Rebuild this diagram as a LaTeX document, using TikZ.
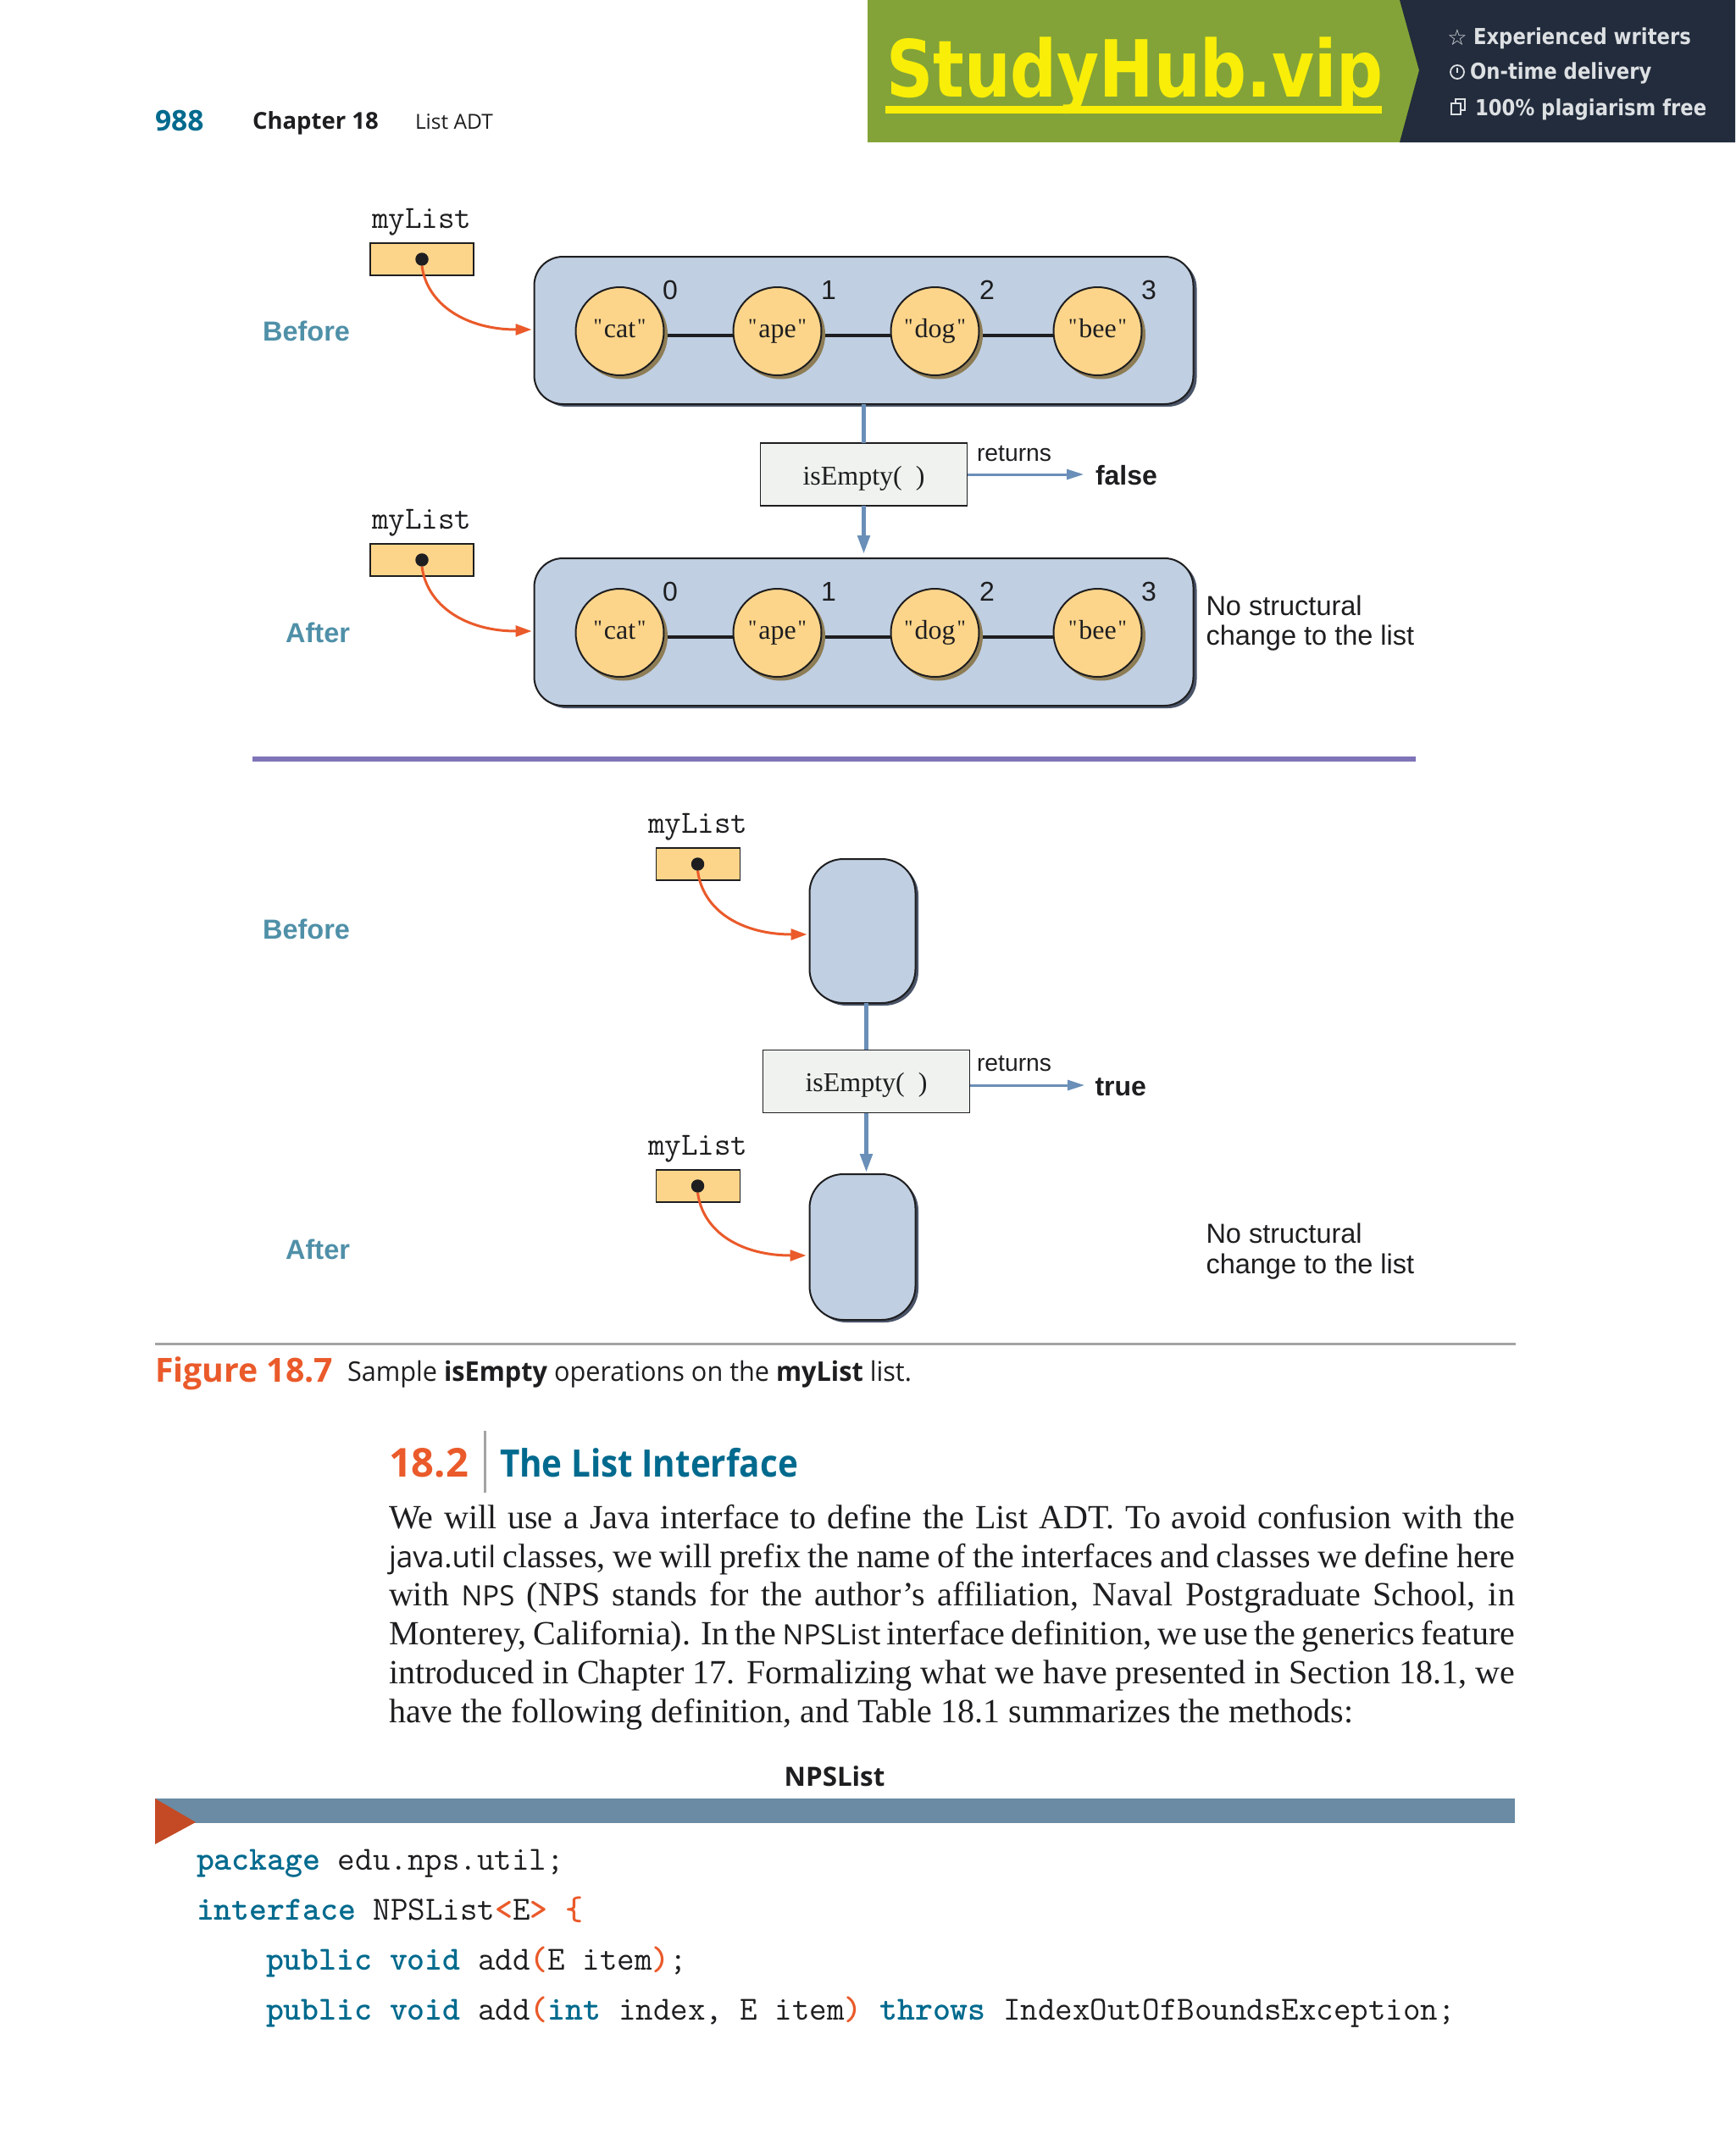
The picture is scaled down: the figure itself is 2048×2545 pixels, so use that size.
\documentclass[tikz,border=0pt]{standalone}
\usepackage{fontspec}
\usepackage{graphicx}
\setmainfont{Liberation Serif}
\setsansfont{Liberation Sans}
\newfontfamily\myr{Open Sans}
\newfontfamily\djv{DejaVu Sans}
\newfontfamily\plainq{Liberation Serif}
\usetikzlibrary{arrows.meta}
\definecolor{listfill}{HTML}{C0CFE2}
\definecolor{listshadow}{HTML}{4A5468}
\definecolor{ballfill}{HTML}{FDD58A}
\definecolor{ballshadow}{HTML}{8E7D55}
\definecolor{flow}{HTML}{6A8FB8}
\definecolor{ptr}{HTML}{EA5A2A}
\definecolor{opfill}{HTML}{EFF2EE}
\definecolor{tagc}{HTML}{4F90A8}
\definecolor{teal}{HTML}{006A8E}
\definecolor{inkc}{HTML}{1E1E20}
\definecolor{purp}{HTML}{8074B8}
\definecolor{graybar}{HTML}{A3A3A3}
\definecolor{steel}{HTML}{6A8BA3}
\definecolor{rust}{HTML}{C44A25}
\definecolor{bgreen}{HTML}{83A338}
\definecolor{bdark}{HTML}{222C3C}
\definecolor{bpale}{HTML}{DDE0E3}
\newcommand\fs[1]{\fontsize{#1}{#1}\selectfont}
\newcommand\qq{{\plainq\fs{25}\raisebox{5pt}{"}}}
\newcommand\kw[1]{\textcolor{teal}{\bfseries #1}}
\newcommand\oc[1]{\textcolor{ptr}{\bfseries #1}}
\pgfdeclarelayer{page}
\pgfdeclarelayer{lst}
\pgfdeclarelayer{conn}
\pgfsetlayers{page,lst,conn,main}
\tikzset{
  x=1pt,y=-1pt,
  every node/.style={inkc,inner sep=0pt,outer sep=0pt},
  listbox/.style={draw=inkc,fill=listfill,line width=2pt,rounded corners=34pt,minimum width=#1},
  listshade/.style={fill=listshadow,rounded corners=34pt,minimum width=#1},
  ball/.style={circle,draw=inkc,fill=ballfill,line width=2pt,minimum size=104pt,font=\rmfamily\fs{32},text height=15pt,text depth=0pt},
  ballshade/.style={circle,fill=ballshadow,minimum size=105pt},
  ptrbox/.style={draw=inkc,fill=ballfill,line width=1.8pt,minimum height=38pt},
  ptrdot/.style={circle,fill=inkc,minimum size=15.5pt},
  opbox/.style={draw=inkc,fill=opfill,line width=1.8pt,font=\rmfamily\fs{32},minimum width=244pt,minimum height=74pt,text height=24pt,text depth=0pt},
  ptrarrow/.style={ptr,line width=3pt,-{Triangle[length=19pt,width=13pt]}},
  flowline/.style={flow,line width=5pt},
  flowarrow/.style={flow,line width=5pt,-{Triangle[length=22pt,width=14pt]}},
  retarrow/.style={flow,line width=3pt,-{Triangle[length=20pt,width=12pt]}},
  link/.style={inkc,line width=3.5pt},
  varname/.style={anchor=base west,font=\ttfamily\fs{38}},
  tag/.style={anchor=base east,tagc,font=\sffamily\bfseries\fs{32.5}},
  note/.style={anchor=base west,font=\sffamily\fs{32.5}},
  idx/.style={anchor=base,font=\sffamily\fs{32}},
  retlab/.style={anchor=base west,font=\sffamily\fs{28.3}},
  result/.style={anchor=base west,font=\sffamily\bfseries\fs{32}},
  bodyline/.style={anchor=base west,font=\rmfamily\fs{40}},
  codeline/.style={anchor=base west,font=\ttfamily\fs{39.85}},
  badge/.style={anchor=base west,bpale,font=\djv\bfseries\fs{26}},
}
\newcommand\ListRow[2]{% #1 = name prefix, #2 = vertical shift
  \begin{pgfonlayer}{lst}
    \node[listshade=778pt,minimum height=174pt] at (1023.5,393+#2) {};
    \node[listbox=778pt,minimum height=174pt] (#1L) at (1019.5,390+#2) {};
  \end{pgfonlayer}
  \foreach \nm/\cx/\wlab/\ix/\ixdx in {a/731.5/cat/0/59.5,b/917.5/ape/1/60.5,c/1103.5/dog/2/61.5,d/1295.5/bee/3/60.5}{
    \node[ballshade] at (\cx+4,391+#2+4) {};
    \node[ball] (#1\nm) at (\cx,391+#2) {\qq\kern2pt\wlab\kern2pt\qq};
    \node[idx] at (\cx+\ixdx,353+#2) {\ix};
  }
  \begin{pgfonlayer}{conn}
    \draw[link] ([yshift=-5pt]#1a.center) -- ([yshift=-5pt]#1b.center);
    \draw[link] ([yshift=-5pt]#1b.center) -- ([yshift=-5pt]#1c.center);
    \draw[link] ([yshift=-5pt]#1c.center) -- ([yshift=-5pt]#1d.center);
  \end{pgfonlayer}
}
\begin{document}
\begin{tikzpicture}
\useasboundingbox (0,0) rectangle (2048,2545);
\begin{pgfonlayer}{page}
\fill[white] (0,0) rectangle (2048,2545);
\end{pgfonlayer}

% banner
\fill[bgreen] (1024,0) rectangle (1680,168);
\fill[bdark] (1652,0) -- (1675,83) -- (1652,168) -- (2048,168) -- (2048,0) -- cycle;
\node[anchor=base west,yellow!95!bgreen] at (1046,115) {\scalebox{.826}[1]{\djv\bfseries\fs{93}StudyHub.vip}};
\fill[yellow!95!bgreen] (1045,125) rectangle (1631,134);
\node[badge] at (1739,53) {\scalebox{.875}[1]{Experienced writers}};
\node[badge] at (1735,94) {\scalebox{.875}[1]{On-time delivery}};
\node[badge] at (1741,136) {\scalebox{.875}[1]{100\% plagiarism free}};
\node[anchor=center,bpale,font=\djv\fs{26}] at (1720,44) {☆};
\draw[bpale,line width=1.8pt] (1720,85) circle (8);
\draw[bpale,line width=1.5pt] (1720,80) -- (1720,86);
\draw[bpale,line width=1.5pt] (1713,122) rectangle (1724,135);
\draw[bpale,line width=1.5pt] (1718,122) -- (1718,117) -- (1729,117) -- (1729,130) -- (1724,130);

% running head
\node[anchor=base west,teal,font=\myr\bfseries\fs{33.6}] at (183,154) {988};
\node[anchor=base west,font=\myr\bfseries\fs{27.5}] at (298,153) {Chapter 18};
\node[anchor=base west,font=\myr\fs{24.5}] at (490,153) {List ADT};

% upper diagram, before
\node[varname] at (439,269) {myList};
\node[ptrbox,minimum width=122pt] (bx1) at (498,306) {};
\node[ptrdot] (d1) at (498,306) {};
\coordinate (t1) at (627.5,389);
\ListRow{u}{0}
\draw[ptrarrow] (d1.south) .. controls (504,360) and (551,389) .. (t1);
\node[tag] at (413,402) {Before};

\node[opbox] (op1) at (1019.5,560) {isEmpty(\ \ )};
\draw[flowline] (uL.south -| op1.north) -- (op1.north);
\node[retlab] at (1153,544) {returns};
\node[result] (r1) at (1293,572) {false};
\coordinate (e1) at (1279,560);
\draw[retarrow] (op1.east) -- (e1);

% upper diagram, after
\node[varname] at (439,624) {myList};
\node[ptrbox,minimum width=122pt] (bx2) at (498,661) {};
\node[ptrdot] (d2) at (498,661) {};
\coordinate (t2) at (627.5,745);
\ListRow{v}{356}
\draw[ptrarrow] (d2.south) .. controls (504,716) and (551,745) .. (t2);
\node[tag] at (413,758) {After};
\coordinate (e2) at (1019.5,654);
\draw[flowarrow] (op1.south) -- (e2);
\node[note] at (1423.5,726) {No structural};
\node[note] at (1423.5,761) {change to the list};

% divider
\fill[purp] (298,892.5) rectangle (1671,898.5);

% lower diagram, before
\node[varname] at (765,983) {myList};
\node[ptrbox,minimum width=99pt] (bx3) at (824,1020) {};
\node[ptrdot] (d3) at (823.5,1020) {};
\coordinate (t3) at (952.5,1103);
\begin{pgfonlayer}{lst}
\node[fill=listshadow,rounded corners=40pt,minimum width=125pt,minimum height=170pt] at (1021.5,1102) {};
\node[draw=inkc,fill=listfill,line width=2pt,rounded corners=40pt,minimum width=125pt,minimum height=170pt] (w1) at (1018,1099) {};
\end{pgfonlayer}
\draw[ptrarrow] (d3.south) .. controls (829.5,1075) and (875.5,1103) .. (t3);
\node[tag] at (413,1108) {Before};

\node[opbox] (op2) at (1022.5,1276.5) {isEmpty(\ \ )};
\begin{pgfonlayer}{conn}
\draw[flowline] (w1.south -| op2.north) -- (op2.north);
\end{pgfonlayer}
\node[retlab] at (1153,1264) {returns};
\node[result] at (1292.5,1293) {true};
\coordinate (e3) at (1280,1281);
\draw[retarrow] (op2.east |- e3) -- (e3);

% lower diagram, after
\node[varname] at (765,1363) {myList};
\node[ptrbox,minimum width=99pt] (bx4) at (824,1400) {};
\node[ptrdot] (d4) at (823.5,1400) {};
\coordinate (t4) at (951.5,1482);
\begin{pgfonlayer}{lst}
\node[fill=listshadow,rounded corners=40pt,minimum width=125pt,minimum height=172pt] at (1021.5,1475) {};
\node[draw=inkc,fill=listfill,line width=2pt,rounded corners=40pt,minimum width=125pt,minimum height=172pt] (w2) at (1018,1472) {};
\end{pgfonlayer}
\draw[ptrarrow] (d4.south) .. controls (829.5,1455) and (875.5,1482) .. (t4);
\node[tag] at (413,1486) {After};
\coordinate (e4) at (1022.5,1384);
\draw[flowarrow] (op2.south) -- (e4);
\node[note] at (1423.5,1467) {No structural};
\node[note] at (1423.5,1503) {change to the list};

% caption
\fill[graybar] (183,1584.5) rectangle (1789,1587.5);
\node[anchor=base west,ptr,font=\myr\bfseries\fs{39.2}] at (183,1631) {Figure 18.7};
\node[anchor=base west,font=\myr\fs{32}] at (410,1630) {\scalebox{.958}[1]{Sample \textbf{isEmpty} operations on the \textbf{myList} list.}};

% section heading
\node[anchor=base west,ptr,font=\myr\bfseries\fs{47}] at (459,1743) {18.2};
\fill[graybar] (571,1689) rectangle (573.5,1762);
\node[anchor=base west,teal,font=\myr\bfseries\fs{44.6}] at (590,1743) {\scalebox{.906}[1]{The List Interface}};

% body
\node[bodyline] at (459,1804) {\makebox[1329pt][s]{We will use a Java interface to define the List ADT. To avoid confusion with the}};
\node[bodyline] at (459,1850) {\makebox[1329pt][s]{{\myr\fs{35}java.util} classes, we will prefix the name of the interfaces and classes we define here}};
\node[bodyline] at (459,1895) {\makebox[1329pt][s]{with {\myr\fs{33}NPS} (NPS stands for the author’s affiliation, Naval Postgraduate School, in}};
\node[bodyline] at (459,1941) {\makebox[1329pt][s]{Monterey, California). In the {\myr\fs{33}NPSList} interface definition, we use the generics feature}};
\node[bodyline] at (459,1987) {\makebox[1329pt][s]{introduced in Chapter 17. Formalizing what we have presented in Section 18.1, we}};
\node[bodyline] at (459,2033) {have the following definition, and Table 18.1 summarizes the methods:};

% code title and bar
\node[anchor=base,font=\myr\bfseries\fs{31.3}] at (985,2108) {NPSList};
\fill[steel] (183,2123) rectangle (1788,2152);
\fill[rust] (183,2123) -- (231,2151) -- (183,2177) -- cycle;

% code
\node[codeline] at (232,2207) {\kw{package} edu.nps.util;};
\node[codeline] at (232,2266.5) {\kw{interface} NPSList\oc{<}E\oc{>} \oc{\{}};
\node[codeline] at (314,2325.5) {\kw{public} \kw{void} add\oc{(}E item\oc{)};};
\node[codeline] at (314,2384.5) {\kw{public} \kw{void} add\oc{(}\kw{int} index, E item\oc{)} \kw{throws} IndexOutOfBoundsException;};
\end{tikzpicture}
\end{document}
